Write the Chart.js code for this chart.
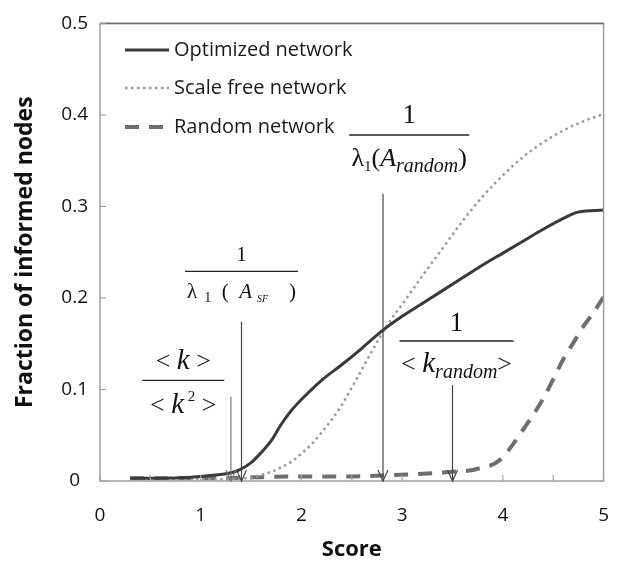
<!DOCTYPE html>
<html><head><meta charset="utf-8">
<script src="https://cdn.jsdelivr.net/npm/chart.js@4/dist/chart.umd.min.js"></script>
<style>html,body{margin:0;padding:0;background:#fff}#wrap{width:632px;height:568px}</style>
</head><body><div id="wrap"><canvas id="c" width="632" height="568"></canvas></div>
<script>
// ---- data ----
const optX = [0.3,0.6,0.9,1.1,1.3,1.4,1.5,1.6,1.7,1.8,1.9,2.0,2.2,2.4,2.6,2.8,3.0,3.2,3.4,3.6,3.8,4.0,4.2,4.4,4.6,4.75,5.0];
const optY = [0.003,0.003,0.004,0.006,0.009,0.013,0.02,0.031,0.044,0.062,0.077,0.089,0.11,0.127,0.145,0.164,0.18,0.194,0.208,0.222,0.236,0.249,0.262,0.275,0.287,0.294,0.296];
const sfX = [0.3,0.8,1.2,1.5,1.7,1.8,1.9,2.0,2.1,2.2,2.3,2.4,2.5,2.6,2.7,2.8,2.9,3.0,3.2,3.4,3.6,3.8,4.0,4.2,4.4,4.6,4.8,5.0];
const sfY = [0.002,0.002,0.002,0.004,0.010,0.015,0.021,0.03,0.04,0.053,0.067,0.083,0.102,0.122,0.142,0.161,0.178,0.193,0.224,0.254,0.284,0.311,0.334,0.354,0.370,0.383,0.393,0.401];
const rndX = [0.3,0.8,1.2,1.5,2.0,2.5,2.8,3.2,3.5,3.7,3.8,3.9,4.0,4.1,4.2,4.3,4.4,4.5,4.6,4.7,4.8,4.9,5.0];
const rndY = [0.003,0.003,0.003,0.004,0.005,0.005,0.006,0.008,0.01,0.012,0.015,0.018,0.026,0.04,0.056,0.072,0.09,0.111,0.133,0.151,0.169,0.184,0.201];
const seriesNames = ['Optimized network','Scale free network','Random network'];
const xTitle = 'Score';
const yTitle = 'Fraction of informed nodes';
// threshold markers: x position and top of arrow (data units)
const arrowX = [1.30, 1.405, 2.81, 3.50];
const arrowTop = [0.092, 0.174, 0.314, 0.105];
// fraction labels: centre x and bar y (data units)
const fracX = [0.827, 1.405, 3.07, 3.54];
const fracY = [0.110, 0.229, 0.378, 0.153];

const pts = (xs, ys) => xs.map((x, i) => ({x, y: ys[i]}));

const SERIF = '"Liberation Serif", "DejaVu Serif", serif';
function drawRich(ctx, segs, cx, baseY) {
  let total = 0;
  const ws = segs.map(s => {
    ctx.font = (s.i ? 'italic ' : '') + s.s + 'px ' + SERIF;
    const w = ctx.measureText(s.t).width;
    total += w;
    return w;
  });
  let x = cx - total / 2;
  segs.forEach((s, k) => {
    ctx.font = (s.i ? 'italic ' : '') + s.s + 'px ' + SERIF;
    ctx.fillText(s.t, x, baseY + (s.dy || 0));
    x += ws[k];
  });
}

// fraction styles (pixel offsets, widths, text segments)
const fracStyle = [
  { w: 82, numOff: -11, denOff: 33,
    num: [{t:'< ',s:26},{t:'k',s:29,i:true},{t:' >',s:26}],
    den: [{t:'< ',s:26},{t:'k',s:29,i:true},{t:' 2',s:15,dy:-12},{t:' >',s:26}] },
  { w: 113, numOff: -10, denOff: 27,
    num: [{t:'1',s:21}],
    den: [{t:'λ',s:21},{t:'  1',s:14,dy:4},{t:'  (  ',s:21},{t:'A',s:21,i:true},{t:'  SF',s:10,i:true,dy:4},{t:'    )',s:21}] },
  { w: 120, numOff: -12, denOff: 31,
    num: [{t:'1',s:27}],
    den: [{t:'λ',s:26},{t:'1',s:15,dy:5},{t:'(',s:26},{t:'A',s:26,i:true},{t:'random',s:20,i:true,dy:6},{t:')',s:26}] },
  { w: 114, numOff: -10, denOff: 31,
    num: [{t:'1',s:27}],
    den: [{t:'< ',s:26},{t:'k',s:29,i:true},{t:'random',s:20,i:true,dy:6},{t:'>',s:26}] }
];

const decor = {
  id: 'decor',
  afterDatasetsDraw(chart) {
    const ctx = chart.ctx, xs = chart.scales.x, ys = chart.scales.y, a = chart.chartArea;
    ctx.save();
    // frame
    ctx.strokeStyle = '#a0a0a0'; ctx.lineWidth = 1.5;
    ctx.strokeRect(a.left, a.top, a.right - a.left, a.bottom - a.top);
    ctx.strokeStyle = '#6a6a6a';
    ctx.beginPath(); ctx.moveTo(a.left, a.top); ctx.lineTo(a.right, a.top); ctx.stroke();
    // inward ticks
    ctx.strokeStyle = '#a0a0a0'; ctx.lineWidth = 1.2;
    xs.ticks.forEach(t => { const px = xs.getPixelForValue(t.value);
      ctx.beginPath(); ctx.moveTo(px, a.bottom); ctx.lineTo(px, a.bottom - 6); ctx.stroke(); });
    ys.ticks.forEach(t => { const py = ys.getPixelForValue(t.value);
      ctx.beginPath(); ctx.moveTo(a.left, py); ctx.lineTo(a.left + 6, py); ctx.stroke(); });
    // legend
    const ds = chart.data.datasets;
    const legY = [50, 88, 127];
    ds.forEach((d, k) => {
      ctx.strokeStyle = d.borderColor; ctx.lineWidth = d.borderWidth;
      ctx.setLineDash(d.borderDash || []);
      ctx.lineDashOffset = 0;
      ctx.beginPath(); ctx.moveTo(125, legY[k]); ctx.lineTo(169, legY[k]); ctx.stroke();
      ctx.setLineDash([]);
      ctx.fillStyle = '#1a1a1a'; ctx.font = '20px "Open Sans"'; ctx.textBaseline = 'middle';
      ctx.fillText(d.label, 174, legY[k]);
    });
    // arrows
    arrowX.forEach((v, k) => {
      const px = xs.getPixelForValue(v), top = ys.getPixelForValue(arrowTop[k]), bot = a.bottom;
      ctx.strokeStyle = k === 0 ? '#777' : '#444'; ctx.lineWidth = 1.2;
      ctx.beginPath(); ctx.moveTo(px, top); ctx.lineTo(px, bot); ctx.stroke();
      ctx.beginPath(); ctx.moveTo(px - 5, bot - 11); ctx.lineTo(px, bot); ctx.lineTo(px + 5, bot - 11); ctx.stroke();
    });
    // fractions
    ctx.fillStyle = '#111'; ctx.textBaseline = 'alphabetic';
    fracX.forEach((v, k) => {
      const st = fracStyle[k];
      const cx = xs.getPixelForValue(v), by = ys.getPixelForValue(fracY[k]);
      ctx.strokeStyle = '#222'; ctx.lineWidth = 1.4;
      ctx.beginPath(); ctx.moveTo(cx - st.w / 2, by); ctx.lineTo(cx + st.w / 2, by); ctx.stroke();
      drawRich(ctx, st.num, cx, by + st.numOff);
      drawRich(ctx, st.den, cx, by + st.denOff);
    });
    ctx.restore();
  }
};

new Chart(document.getElementById('c'), {
  type: 'line',
  data: { datasets: [
    { label: seriesNames[0], data: pts(optX, optY), borderColor: '#3a3a3a', borderWidth: 3, pointRadius: 0, cubicInterpolationMode: 'monotone', fill: false },
    { label: seriesNames[1], data: pts(sfX, sfY), borderColor: '#9a9a9a', borderWidth: 2.5, borderDash: [2.5, 3.5], pointRadius: 0, cubicInterpolationMode: 'monotone', fill: false },
    { label: seriesNames[2], data: pts(rndX, rndY), borderColor: '#6e6e6e', borderWidth: 4, borderDash: [14, 10], pointRadius: 0, cubicInterpolationMode: 'monotone', fill: false }
  ]},
  options: {
    responsive: false, animation: false, parsing: true,
    layout: { padding: { left: 0, right: 18, top: 14, bottom: 0 } },
    plugins: { legend: { display: false }, tooltip: { enabled: false } },
    scales: {
      x: { type: 'linear', min: 0, max: 5,
        grid: { display: false, drawTicks: false }, border: { display: false },
        ticks: { stepSize: 0.5, padding: 23, color: '#111', font: { family: 'Open Sans', size: 19 },
          callback: v => Number.isInteger(v) ? String(v) : '' , maxRotation: 0, autoSkip: false },
        title: { display: true, text: xTitle, color: '#111', font: { family: 'Open Sans', size: 22, weight: 'bold' }, padding: { top: 0, bottom: 5 } },
        afterFit: s => { s.height = 87; } },
      y: { min: 0, max: 0.5,
        grid: { display: false, drawTicks: false }, border: { display: false },
        ticks: { stepSize: 0.1, padding: 12, crossAlign: 'center', color: '#111', font: { family: 'Open Sans', size: 19 },
          callback: v => v === 0 ? '0' : v.toFixed(1) },
        title: { display: true, text: yTitle, color: '#111', font: { family: 'Open Sans', size: 23, weight: 'bold' }, padding: { top: 12, bottom: 0 } },
        afterFit: s => { s.width = 100; } }
    }
  },
  plugins: [decor]
});
</script></body></html>
